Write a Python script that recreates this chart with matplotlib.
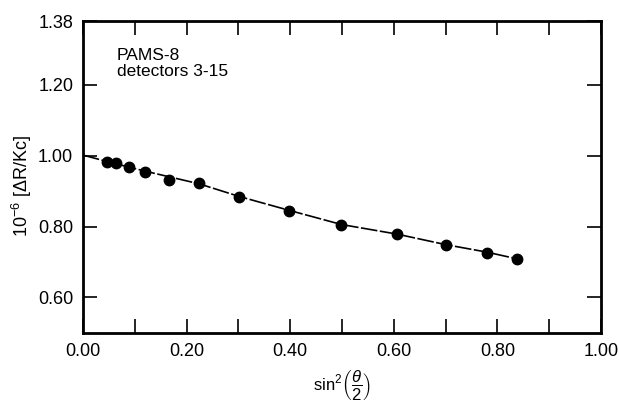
import matplotlib.pyplot as plt
from matplotlib.ticker import MultipleLocator, FixedLocator

# measured points
sin2 = [0.046, 0.064, 0.088, 0.119, 0.167, 0.224, 0.302, 0.398, 0.499, 0.606, 0.701, 0.780, 0.838]
ratio = [0.982, 0.981, 0.967, 0.955, 0.933, 0.922, 0.884, 0.844, 0.804, 0.780, 0.748, 0.727, 0.709]

# fitted curve
fit_x = [0.0, 0.046, 0.119, 0.224, 0.302, 0.398, 0.499, 0.606, 0.701, 0.780, 0.838]
fit_y = [1.002, 0.984, 0.957, 0.921, 0.885, 0.846, 0.806, 0.779, 0.749, 0.728, 0.709]

y_ticks = [0.60, 0.80, 1.00, 1.20, 1.38]
x_ticks = [0.0, 0.2, 0.4, 0.6, 0.8, 1.0]

plt.rcParams['font.family'] = ['Liberation Sans', 'DejaVu Sans']
plt.rcParams['mathtext.fontset'] = 'custom'
plt.rcParams['mathtext.rm'] = 'Liberation Sans'
plt.rcParams['mathtext.it'] = 'Liberation Sans:italic'

fig = plt.figure(figsize=(6.19, 4.07), dpi=100)
ax = fig.add_axes([0.134, 0.182, 0.837, 0.766])

ax.plot(fit_x, fit_y, color='black', lw=1.2, dashes=(10, 1.5))
ax.plot(sin2, ratio, 'o', color='black', ms=7.5, ls='none')

ax.set_xlim(0, 1.0)
ax.set_ylim(0.50, 1.38)
ax.xaxis.set_major_locator(FixedLocator(x_ticks))
ax.xaxis.set_minor_locator(MultipleLocator(0.1))
ax.yaxis.set_major_locator(FixedLocator(y_ticks))
ax.set_xticklabels([f"{v:.2f}" for v in x_ticks])
ax.set_yticklabels([f"{v:.2f}" for v in y_ticks])

ax.tick_params(which='both', direction='in', length=10, width=1.2,
               top=True, right=True, labelsize=13, pad=7)
for s in ax.spines.values():
    s.set_linewidth(2)

ax.set_ylabel(r"10$^{-6}$ [$\Delta$R/Kc]", fontsize=13)
ax.yaxis.set_label_coords(-0.095, 0.47)
ax.set_xlabel(r"sin$^2\left(\dfrac{\theta}{2}\right)$", fontsize=12, labelpad=6)

ax.text(0.065, 0.915, "PAMS-8\ndetectors 3-15", transform=ax.transAxes,
        fontsize=12.5, va='top', ha='left', linespacing=1.1)

fig.savefig("out.png", dpi=100)
